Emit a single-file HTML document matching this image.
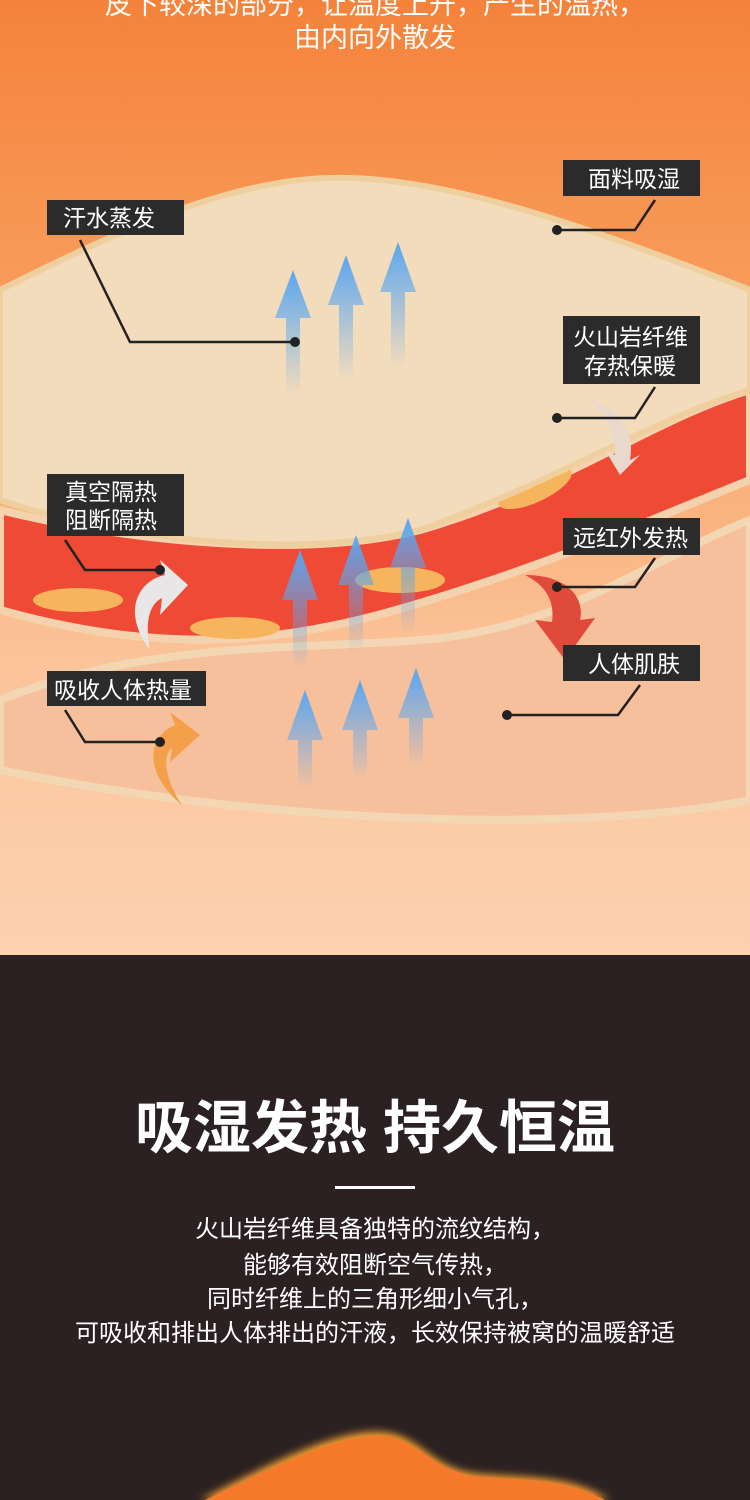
<!DOCTYPE html><html><head><meta charset="utf-8"><style>
body{margin:0;width:750px;height:1500px;overflow:hidden;font-family:"Liberation Sans","Noto Sans CJK SC",sans-serif}
svg{display:block}
</style></head><body>
<svg width="750" height="1500" viewBox="0 0 750 1500" xmlns="http://www.w3.org/2000/svg">
<defs>
<linearGradient id="bg" x1="0" y1="0" x2="0" y2="1">
<stop offset="0" stop-color="#f5823a"/><stop offset="0.35" stop-color="#f8a060"/><stop offset="0.7" stop-color="#fbc49a"/><stop offset="1" stop-color="#fcd2b0"/></linearGradient>
<linearGradient id="ar" x1="0" y1="0" x2="0" y2="1"><stop offset="0" stop-color="#5aa6f0"/><stop offset="1" stop-color="#5aa6f0" stop-opacity="0"/></linearGradient>
<filter id="gl"><feGaussianBlur stdDeviation="4"/></filter>
</defs>
<rect width="750" height="955" fill="url(#bg)"/>
<text x="375" y="14" fill="#fff" font-size="27" text-anchor="middle">皮下较深的部分，让温度上升，产生的温热，</text>
<text x="375" y="47" fill="#fff" font-size="27" text-anchor="middle">由内向外散发</text>
<path d="M0 700 C150 640 300 650 420 640 C560 630 650 560 750 520 L750 800 C600 830 300 830 0 770 Z" fill="#f7c09c" stroke="#f3d7b4" stroke-width="8"/>
<path d="M0 510 C120 540 300 560 420 530 C560 490 650 420 750 390 L750 480 C650 520 560 560 430 600 C300 640 180 660 0 610 Z" fill="#ee4a36" stroke="#f5d2ae" stroke-width="8"/>
<g fill="#f6b45c">
<ellipse cx="78" cy="600" rx="45" ry="12"/><ellipse cx="235" cy="628" rx="45" ry="11"/><ellipse cx="400" cy="580" rx="45" ry="13"/><ellipse cx="535" cy="488" rx="40" ry="14" transform="rotate(-25 535 488)"/><ellipse cx="650" cy="400" rx="28" ry="10" transform="rotate(-25 650 400)"/></g>
<path d="M0 290 C120 230 230 180 330 178 C430 175 560 215 750 290 L750 390 C650 420 560 480 420 530 C300 560 120 540 0 500 Z" fill="#f3dcbc" stroke="#efcf9e" stroke-width="6"/>
<g fill="url(#ar)">
<path d="M293 270 L275 318 L286 318 L286 395 L300 395 L300 318 L311 318 Z"/>
<path d="M346 255 L328 305 L339 305 L339 380 L353 380 L353 305 L364 305 Z"/>
<path d="M398 242 L380 292 L391 292 L391 368 L405 368 L405 292 L416 292 Z"/>
<path d="M300 550 L282 600 L293 600 L293 670 L307 670 L307 600 L318 600 Z"/>
<path d="M356 535 L338 585 L349 585 L349 655 L363 655 L363 585 L374 585 Z"/>
<path d="M408 518 L390 568 L401 568 L401 635 L415 635 L415 568 L426 568 Z"/>
<path d="M305 690 L287 740 L298 740 L298 790 L312 790 L312 740 L323 740 Z"/>
<path d="M360 680 L342 730 L353 730 L353 780 L367 780 L367 730 L378 730 Z"/>
<path d="M416 668 L398 718 L409 718 L409 768 L423 768 L423 718 L434 718 Z"/>
</g>
<path d="M150 650 C120 610 140 580 165 575 L160 560 L188 585 L160 615 L162 598 C148 605 145 625 150 650Z" fill="#e8e6e6"/>
<path d="M182 805 C140 770 150 735 175 725 L170 712 L200 735 L170 762 L172 748 C162 755 165 780 182 805Z" fill="#f4a04a"/>
<path d="M525 575 C570 575 585 600 580 620 L595 618 L565 660 L535 620 L552 622 C555 600 545 585 525 575Z" fill="#e04a3a"/>
<path d="M590 400 C620 410 635 430 630 460 L640 455 L620 475 L605 450 L615 455 C615 430 605 415 590 400Z" fill="#e9d8cc"/>
<g stroke="#222" stroke-width="2.5" fill="none">
<path d="M80 240 L130 342 L295 342"/><path d="M655 200 L635 230 L557 230"/><path d="M655 387 L635 418 L557 418"/>
<path d="M65 540 L85 570 L160 570"/><path d="M655 558 L635 587 L557 587"/><path d="M640 685 L618 715 L507 715"/><path d="M65 710 L85 742 L160 742"/></g>
<g fill="#222"><circle cx="295" cy="342" r="5"/><circle cx="557" cy="230" r="5"/><circle cx="557" cy="418" r="5"/><circle cx="160" cy="570" r="5"/><circle cx="557" cy="587" r="5"/><circle cx="507" cy="715" r="5"/><circle cx="160" cy="742" r="5"/></g>
<g fill="#2b2b2b">
<rect x="47" y="200" width="137" height="35"/><rect x="563" y="160" width="137" height="36"/><rect x="563" y="316" width="137" height="68"/>
<rect x="47" y="474" width="137" height="62"/><rect x="563" y="518" width="137" height="37"/><rect x="563" y="645" width="137" height="36"/><rect x="47" y="671" width="159" height="35"/></g>
<g fill="#fff" font-size="23">
<text x="63" y="226">汗水蒸发</text><text x="588" y="187">面料吸湿</text><text x="573" y="345">火山岩纤维</text><text x="584" y="374">存热保暖</text>
<text x="65" y="500">真空隔热</text><text x="65" y="528">阻断隔热</text><text x="573" y="546">远红外发热</text><text x="588" y="672">人体肌肤</text><text x="54" y="698">吸收人体热量</text></g>
<rect y="955" width="750" height="545" fill="#2b2122"/>
<text x="375" y="1148" fill="#fff" font-size="58" font-weight="bold" text-anchor="middle">吸湿发热 持久恒温</text>
<rect x="335" y="1186" width="80" height="3" fill="#fff"/>
<g fill="#fff" font-size="24" text-anchor="middle">
<text x="375" y="1237">火山岩纤维具备独特的流纹结构，</text><text x="375" y="1273">能够有效阻断空气传热，</text>
<text x="375" y="1307">同时纤维上的三角形细小气孔，</text><text x="375" y="1341">可吸收和排出人体排出的汗液，长效保持被窝的温暖舒适</text></g>
<path d="M200 1500 C260 1470 330 1430 380 1432 C420 1433 430 1470 480 1474 C530 1478 570 1475 610 1500 Z" fill="#f5a030" filter="url(#gl)"/>
<path d="M205 1500 C265 1472 330 1436 380 1436 C418 1437 430 1472 480 1477 C530 1480 568 1480 605 1500 Z" fill="#f47a2a"/>
</svg>
</body></html>
